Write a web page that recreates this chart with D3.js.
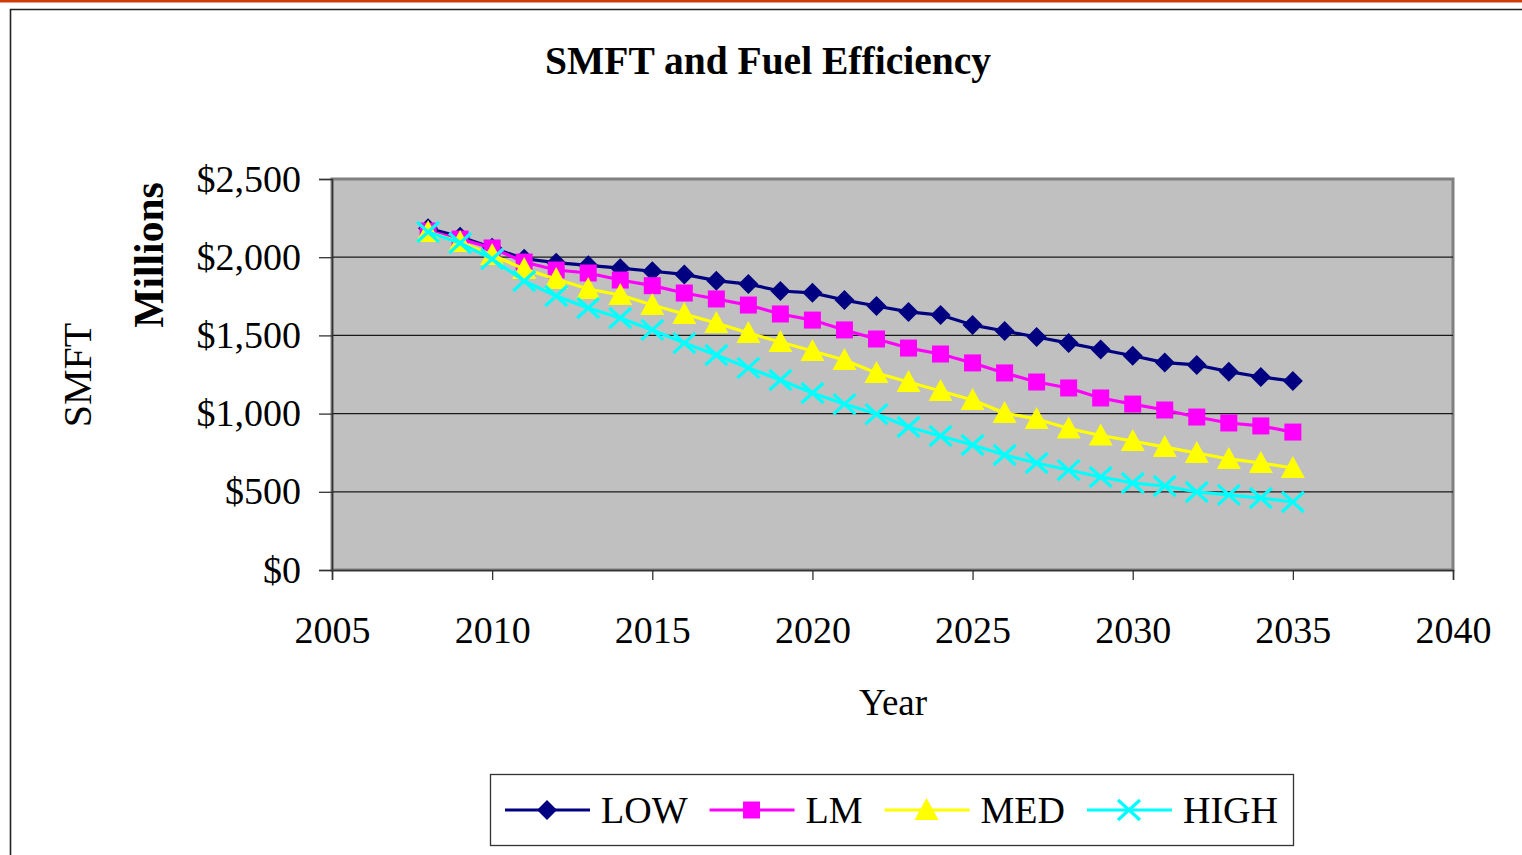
<!DOCTYPE html>
<html>
<head>
<meta charset="utf-8">
<script src="https://cdn.jsdelivr.net/npm/d3@7"></script>
<style>
  body { margin: 0; background: #fff; }
  svg { display: block; font-family: "Liberation Serif", "Times New Roman", serif; }
</style>
</head>
<body>
<svg id="chart" width="1522" height="855"></svg>
<script>
const years = [2008, 2009, 2010, 2011, 2012, 2013, 2014, 2015, 2016, 2017, 2018, 2019, 2020, 2021,
               2022, 2023, 2024, 2025, 2026, 2027, 2028, 2029, 2030, 2031, 2032, 2033, 2034, 2035];

const low  = [2185, 2130, 2060, 1990, 1965, 1948, 1930, 1910, 1890, 1850, 1828, 1784, 1772, 1726,
              1688, 1650, 1630, 1566, 1528, 1490, 1451, 1410, 1370, 1326, 1311, 1268, 1234, 1208];
const lm   = [2167, 2116, 2059, 1969, 1918, 1899, 1854, 1818, 1771, 1733, 1694, 1637, 1598, 1535,
              1477, 1419, 1381, 1324, 1260, 1202, 1164, 1100, 1061, 1023, 978, 940, 921, 882];
const med  = [2161, 2097, 2014, 1925, 1861, 1797, 1758, 1694, 1637, 1579, 1515, 1458, 1400, 1343,
              1260, 1202, 1145, 1087, 1004, 965, 905, 860, 825, 786, 748, 710, 684, 652];
const high = [2161, 2091, 1988, 1848, 1752, 1675, 1611, 1535, 1451, 1375, 1292, 1215, 1132, 1061,
              997, 914, 857, 799, 735, 684, 639, 595, 556, 537, 499, 480, 460, 435];

const seriesNames = ["LOW", "LM", "MED", "HIGH"];
const xTicks = [2005, 2010, 2015, 2020, 2025, 2030, 2035, 2040];
const yTicks = [0, 500, 1000, 1500, 2000, 2500];

const colors = ["#000080", "#ff00ff", "#ffff00", "#00ffff"];
const markers = ["diamond", "square", "triangle", "x"];
const serif = "Liberation Serif, Times New Roman, serif";

const svg = d3.select("#chart");

// page decoration: orange rule and chart frame
svg.append("rect").attr("x", 0).attr("y", 0).attr("width", 1522).attr("height", 2.5).attr("fill", "#d03a08");
svg.append("path")
    .attr("d", "M10.5,900 L10.5,9.5 L1530,9.5")
    .attr("fill", "none")
    .attr("stroke", "#222")
    .attr("stroke-width", 1.6);

const x = d3.scaleLinear().domain([2005, 2040]).range([332, 1453]);
const y = d3.scaleLinear().domain([0, 2500]).range([570, 179]);

// plot area
svg.append("rect")
    .attr("x", x(2005)).attr("y", y(2500))
    .attr("width", x(2040) - x(2005)).attr("height", y(0) - y(2500))
    .attr("fill", "#c0c0c0")
    .attr("stroke", "#808080")
    .attr("stroke-width", 3);

svg.append("g")
    .selectAll("line")
    .data(yTicks.filter(d => d > 0 && d < 2500))
    .join("line")
    .attr("x1", x(2005)).attr("x2", x(2040))
    .attr("y1", d => y(d)).attr("y2", d => y(d))
    .attr("stroke", "#1a1a1a")
    .attr("stroke-width", 1.2);

// axes
const xAxis = svg.append("g")
    .attr("transform", `translate(0,${y(0)})`)
    .call(d3.axisBottom(x).tickValues(xTicks).tickFormat(d3.format("d")).tickSize(10).tickPadding(36));
const yAxis = svg.append("g")
    .attr("transform", `translate(${x(2005)},0)`)
    .call(d3.axisLeft(y).tickValues(yTicks).tickFormat(d => "$" + d3.format(",")(d)).tickSize(13).tickPadding(18));

[xAxis, yAxis].forEach(g => {
    g.attr("font-family", serif).attr("font-size", 38);
    g.select(".domain").attr("stroke", "#333").attr("stroke-width", 1.5);
    g.selectAll(".tick line").attr("stroke", "#333").attr("stroke-width", 1.3);
    g.selectAll("text")
        .attr("fill", "#000")
        .style("font-family", serif)
        .style("font-size", "38px");
});

// titles
svg.append("text")
    .attr("x", 768).attr("y", 74)
    .attr("text-anchor", "middle")
    .style("font-size", "39.5px")
    .style("font-weight", "bold")
    .text("SMFT and Fuel Efficiency");

svg.append("text")
    .attr("x", 893).attr("y", 715)
    .attr("text-anchor", "middle")
    .style("font-size", "37px")
    .text("Year");

svg.append("text")
    .attr("transform", "translate(91,375) rotate(-90)")
    .attr("text-anchor", "middle")
    .style("font-size", "40px")
    .text("SMFT");

svg.append("text")
    .attr("transform", "translate(163,255) rotate(-90)")
    .attr("text-anchor", "middle")
    .style("font-size", "41.5px")
    .style("font-weight", "bold")
    .text("Millions");

// marker shapes
function markerPath(type) {
    if (type === "diamond") return "M0,-10L10,0L0,10L-10,0Z";
    if (type === "square") return "M-8.5,-8.5H8.5V8.5H-8.5Z";
    if (type === "triangle") return "M0,-12L12,10L-12,10Z";
    return "M-11,-10L11,10M-11,10L11,-10";
}

function drawMarker(g, type, color) {
    const p = g.append("path").attr("d", markerPath(type));
    if (type === "x") {
        p.attr("fill", "none").attr("stroke", color).attr("stroke-width", 3.2);
    } else {
        p.attr("fill", color);
    }
}

const line = d3.line().x(d => x(d[0])).y(d => y(d[1]));
const allSeries = [low, lm, med, high];

allSeries.forEach((vals, i) => {
    const pts = years.map((yr, j) => [yr, vals[j]]);
    const g = svg.append("g");
    g.append("path")
        .datum(pts)
        .attr("d", line)
        .attr("fill", "none")
        .attr("stroke", colors[i])
        .attr("stroke-width", 3.2)
        .attr("stroke-linejoin", "round");
    g.selectAll("g.m")
        .data(pts)
        .join("g")
        .attr("class", "m")
        .attr("transform", d => `translate(${x(d[0])},${y(d[1])})`)
        .each(function () { drawMarker(d3.select(this), markers[i], colors[i]); });
});

// legend
const legend = svg.append("g");
legend.append("rect")
    .attr("x", 490.5).attr("y", 774.5)
    .attr("width", 803).attr("height", 71)
    .attr("fill", "#fff")
    .attr("stroke", "#333")
    .attr("stroke-width", 1.3);

let cursor = 505;
seriesNames.forEach((name, i) => {
    const item = legend.append("g").attr("transform", `translate(${cursor},810)`);
    item.append("line")
        .attr("x1", 0).attr("x2", 85)
        .attr("stroke", colors[i])
        .attr("stroke-width", 3.2);
    drawMarker(item.append("g").attr("transform", "translate(42,0)"), markers[i], colors[i]);
    const t = item.append("text")
        .attr("x", 96).attr("y", 13)
        .style("font-size", "38px")
        .text(name);
    cursor += 96 + t.node().getComputedTextLength() + 22;
});
</script>
</body>
</html>
